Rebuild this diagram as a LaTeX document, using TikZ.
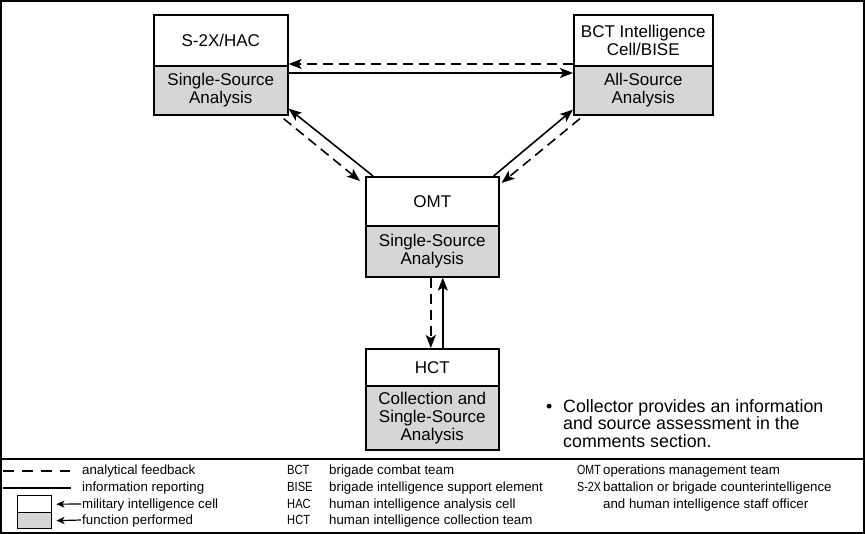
\documentclass[tikz,border=0pt]{standalone}
\usepackage{fontspec}
\setmainfont{Liberation Sans}
\usetikzlibrary{arrows.meta}
\begin{document}
\begin{tikzpicture}[x=1pt,y=-1pt,
  cellbox/.style={draw,line width=1.6pt,fill=white,inner sep=0pt,align=center,font=\fontsize{17}{18}\selectfont},
  funcbox/.style={draw,line width=1.6pt,fill=gray!32,inner sep=0pt,align=center,font=\fontsize{17}{18}\selectfont},
  tip/.style={-{Stealth[length=13pt,width=10pt,inset=3pt]}},
  fb/.style={tip,line width=1.6pt,dash pattern=on 10pt off 6pt},
  ir/.style={tip,line width=1.6pt},
  legtext/.style={anchor=base west,inner sep=0pt,font=\fontsize{13.3}{16}\selectfont},
  abbr/.style={legtext,font=\fontsize{13.3}{16}\selectfont},
  legbox/.style={draw,line width=1.4pt,inner sep=0pt,minimum width=34pt},
]
\useasboundingbox (0,0) rectangle (865,534);
\draw[line width=2pt] (1,1) rectangle (864,533);
\coordinate (sepL) at (1,459);
\coordinate (sepR) at (864,459);
\draw[line width=2pt] (sepL) -- (sepR);

% boxes
\node[cellbox,minimum width=134pt,minimum height=51pt,anchor=north west] (s2t) at (153,14) {S-2X/HAC};
\node[funcbox,minimum width=134pt,minimum height=49pt,anchor=north west] (s2b) at (153,65) {Single-Source\\Analysis};
\node[cellbox,minimum width=139pt,minimum height=51pt,anchor=north west] (bctt) at (573,14) {BCT Intelligence\\Cell/BISE};
\node[funcbox,minimum width=139pt,minimum height=49pt,anchor=north west] (bctb) at (573,65) {All-Source\\Analysis};
\node[cellbox,minimum width=133pt,minimum height=49pt,anchor=north west] (omtt) at (365,176) {OMT};
\node[funcbox,minimum width=133pt,minimum height=51pt,anchor=north west] (omtb) at (365,225) {Single-Source\\Analysis};
\node[cellbox,minimum width=133pt,minimum height=37pt,anchor=north west] (hctt) at (365,348) {HCT};
\node[funcbox,minimum width=133pt,minimum height=64pt,anchor=north west] (hctb) at (365,385) {Collection and\\Single-Source\\Analysis};

% connectors
\draw[fb] ([yshift=1pt]bctb.north west) -- ([yshift=1pt]s2b.north east);
\draw[ir] ([yshift=-8pt]s2b.north east) -- ([yshift=-8pt]bctb.north west);
\draw[fb] ([xshift=-5pt,yshift=-3pt]s2b.south east) -- ([xshift=-5pt,yshift=-5pt]omtt.north west);
\draw[ir] ([xshift=8pt]omtt.north west) -- ([yshift=7pt]s2b.south east);
\draw[ir] ([xshift=-6pt]omtt.north east) -- ([yshift=6pt]bctb.south west);
\draw[fb] ([xshift=7pt,yshift=-3pt]bctb.south west) -- ([xshift=2pt,yshift=-7pt]omtt.north east);
\draw[fb] ([xshift=-1.5pt]omtb.south) -- ([xshift=-1.5pt]hctt.north);
\draw[ir] ([xshift=10.5pt]hctt.north) -- ([xshift=10.5pt]omtb.south);

% note
\node[anchor=base west,inner sep=0pt,font=\fontsize{17.8}{17.8}\selectfont] (bul) at (546,412.7) {•};
\node[anchor=north west,inner sep=0pt,align=left,font=\fontsize{17.8}{17.8}\selectfont] (note) at (563,399) {Collector provides an information\\and source assessment in the\\comments section.};

% legend
\coordinate (dA) at (3,471);
\coordinate (dB) at (70,471);
\draw[line width=1.6pt,dash pattern=on 11pt off 8pt] (dA) -- (dB);
\coordinate (sA) at (3,488);
\coordinate (sB) at (71,488);
\draw[line width=1.6pt] (sA) -- (sB);
\node[legtext] (l1) at (82,475) {analytical feedback};
\node[legtext] (l2) at (82,491.5) {information reporting};
\node[legtext] (l3) at (82,508) {military intelligence cell};
\node[legtext] (l4) at (82,524) {function performed};
\node[legbox,fill=white,minimum height=17pt,anchor=north west] (lbt) at (17,495) {};
\node[legbox,fill=gray!32,minimum height=16pt,anchor=north west] (lbb) at (17,512) {};
\draw[line width=1.2pt,-{Stealth[length=8pt,width=7pt,inset=2pt]}] ([xshift=-1pt,yshift=4pt]l3.base west) -- ([xshift=4pt]lbt.east);
\draw[line width=1.2pt,-{Stealth[length=8pt,width=7pt,inset=2pt]}] ([xshift=-1pt,yshift=4pt]l4.base west) -- ([xshift=4pt]lbb.east);

\node[abbr] (a1) at (287,475) {\scalebox{0.84}[1]{BCT}};
\node[abbr] (a2) at (287,491.5) {\scalebox{0.84}[1]{BISE}};
\node[abbr] (a3) at (287,508) {\scalebox{0.84}[1]{HAC}};
\node[abbr] (a4) at (287,524) {\scalebox{0.84}[1]{HCT}};
\node[legtext] (d1) at (329,475) {brigade combat team};
\node[legtext] (d2) at (329,491.5) {brigade intelligence support element};
\node[legtext] (d3) at (329,508) {human intelligence analysis cell};
\node[legtext] (d4) at (329,524) {human intelligence collection team};

\node[abbr] (b1) at (577,475) {\scalebox{0.8}[1]{OMT}};
\node[abbr] (b2) at (577,491.5) {\scalebox{0.8}[1]{S-2X}};
\node[legtext] (e1) at (603,475) {operations management team};
\node[legtext] (e2) at (603,491.5) {battalion or brigade counterintelligence};
\node[legtext] (e3) at (603,508) {and human intelligence staff officer};
\end{tikzpicture}
\end{document}
